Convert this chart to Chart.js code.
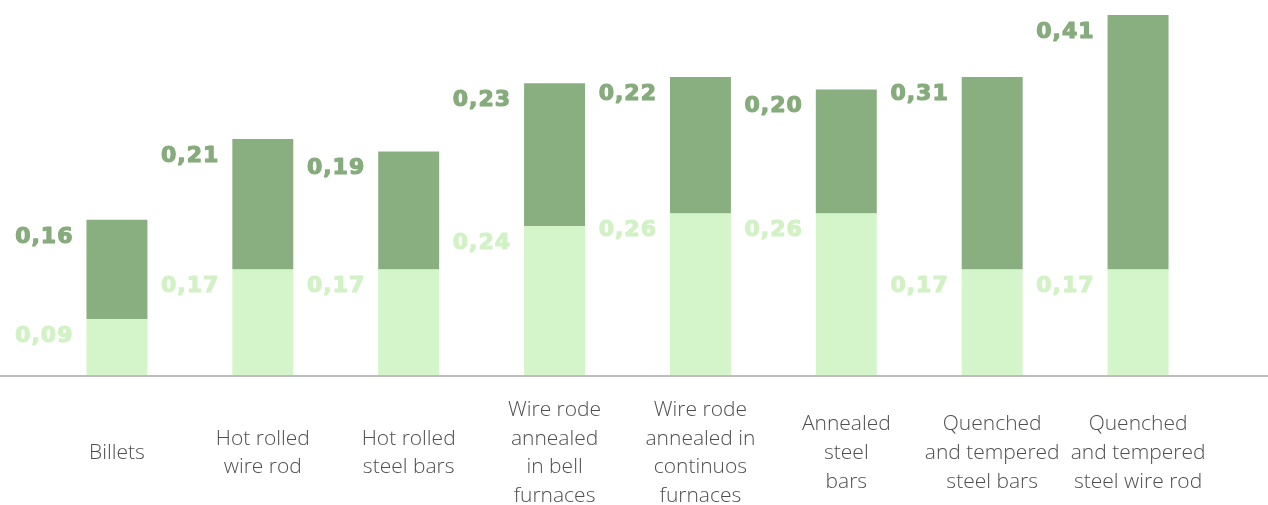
<!DOCTYPE html>
<html>
<head>
<meta charset="utf-8">
<script src="https://cdn.jsdelivr.net/npm/chart.js@4"></script>
<style>
  html, body { margin: 0; padding: 0; background: #ffffff; }
  #wrap { width: 1268px; height: 505px; position: relative; }
</style>
</head>
<body>
<div id="wrap"><canvas id="chart"></canvas></div>
<script>
// categories (multi-line tick labels)
const categories = [
    ['Billets'],
    ['Hot rolled', 'wire rod'],
    ['Hot rolled', 'steel bars'],
    ['Wire rode', 'annealed', 'in bell', 'furnaces'],
    ['Wire rode', 'annealed in', 'continuos', 'furnaces'],
    ['Annealed', 'steel', 'bars'],
    ['Quenched', 'and tempered', 'steel bars'],
    ['Quenched', 'and tempered', 'steel wire rod']
];
// lower (light) segment
const baseValues = [0.09, 0.17, 0.17, 0.24, 0.26, 0.26, 0.17, 0.17];
// upper (dark) segment
const topValues = [0.16, 0.21, 0.19, 0.23, 0.22, 0.20, 0.31, 0.41];

const lightGreen = '#d4f5c9';
const darkGreen = '#89af80';
const darkLabel = '#86ab7c';
const lightLabel = '#d2f2c6';

function fmt(v) {
    return v.toFixed(2).replace('.', ',');
}

// draws the value next to each segment and the full-width base line
const valueLabels = {
    id: 'valueLabels',
    afterDatasetsDraw(chart) {
        const ctx = chart.ctx;
        ctx.save();
        ctx.font = "bold 22px 'DejaVu Sans', sans-serif";
        ctx.letterSpacing = '1px';
        ctx.textAlign = 'right';
        ctx.textBaseline = 'middle';
        ctx.lineWidth = 1.2;
        ctx.lineJoin = 'round';
        chart.data.datasets.forEach((ds, di) => {
            const meta = chart.getDatasetMeta(di);
            ctx.fillStyle = di === 0 ? lightLabel : darkLabel;
            ctx.strokeStyle = ctx.fillStyle;
            meta.data.forEach((bar, i) => {
                const left = bar.x - bar.width / 2;
                const txt = fmt(ds.data[i]);
                ctx.fillText(txt, left - 13, bar.y + 17);
                ctx.strokeText(txt, left - 13, bar.y + 17);
            });
        });
        ctx.restore();

        const y = chart.chartArea.bottom + 1;
        ctx.save();
        ctx.strokeStyle = '#bdbdbd';
        ctx.lineWidth = 2;
        ctx.beginPath();
        ctx.moveTo(0, y);
        ctx.lineTo(chart.width, y);
        ctx.stroke();
        ctx.restore();
    }
};

new Chart(document.getElementById('chart'), {
    type: 'bar',
    data: {
        labels: categories,
        datasets: [
            {
                label: 'base',
                data: baseValues,
                backgroundColor: lightGreen,
                categoryPercentage: 0.418,
                barPercentage: 1
            },
            {
                label: 'top',
                data: topValues,
                backgroundColor: darkGreen,
                categoryPercentage: 0.418,
                barPercentage: 1
            }
        ]
    },
    options: {
        responsive: true,
        maintainAspectRatio: false,
        animation: false,
        layout: { padding: { left: 44, right: 57, top: 0, bottom: 0 } },
        plugins: {
            legend: { display: false },
            tooltip: { enabled: false }
        },
        scales: {
            x: {
                stacked: true,
                grid: { display: false, drawTicks: false },
                border: { display: false },
                ticks: {
                    font: { family: "'Open Sans', sans-serif", size: 21, weight: 300, lineHeight: 1.367 },
                    color: '#4f4f4f',
                    padding: 35,
                    crossAlign: 'center',
                    maxRotation: 0,
                    autoSkip: false
                },
                afterFit(scale) { scale.height = 130; }
            },
            y: {
                stacked: true,
                display: false,
                min: 0,
                max: 0.604
            }
        }
    },
    plugins: [valueLabels]
});
</script>
</body>
</html>
